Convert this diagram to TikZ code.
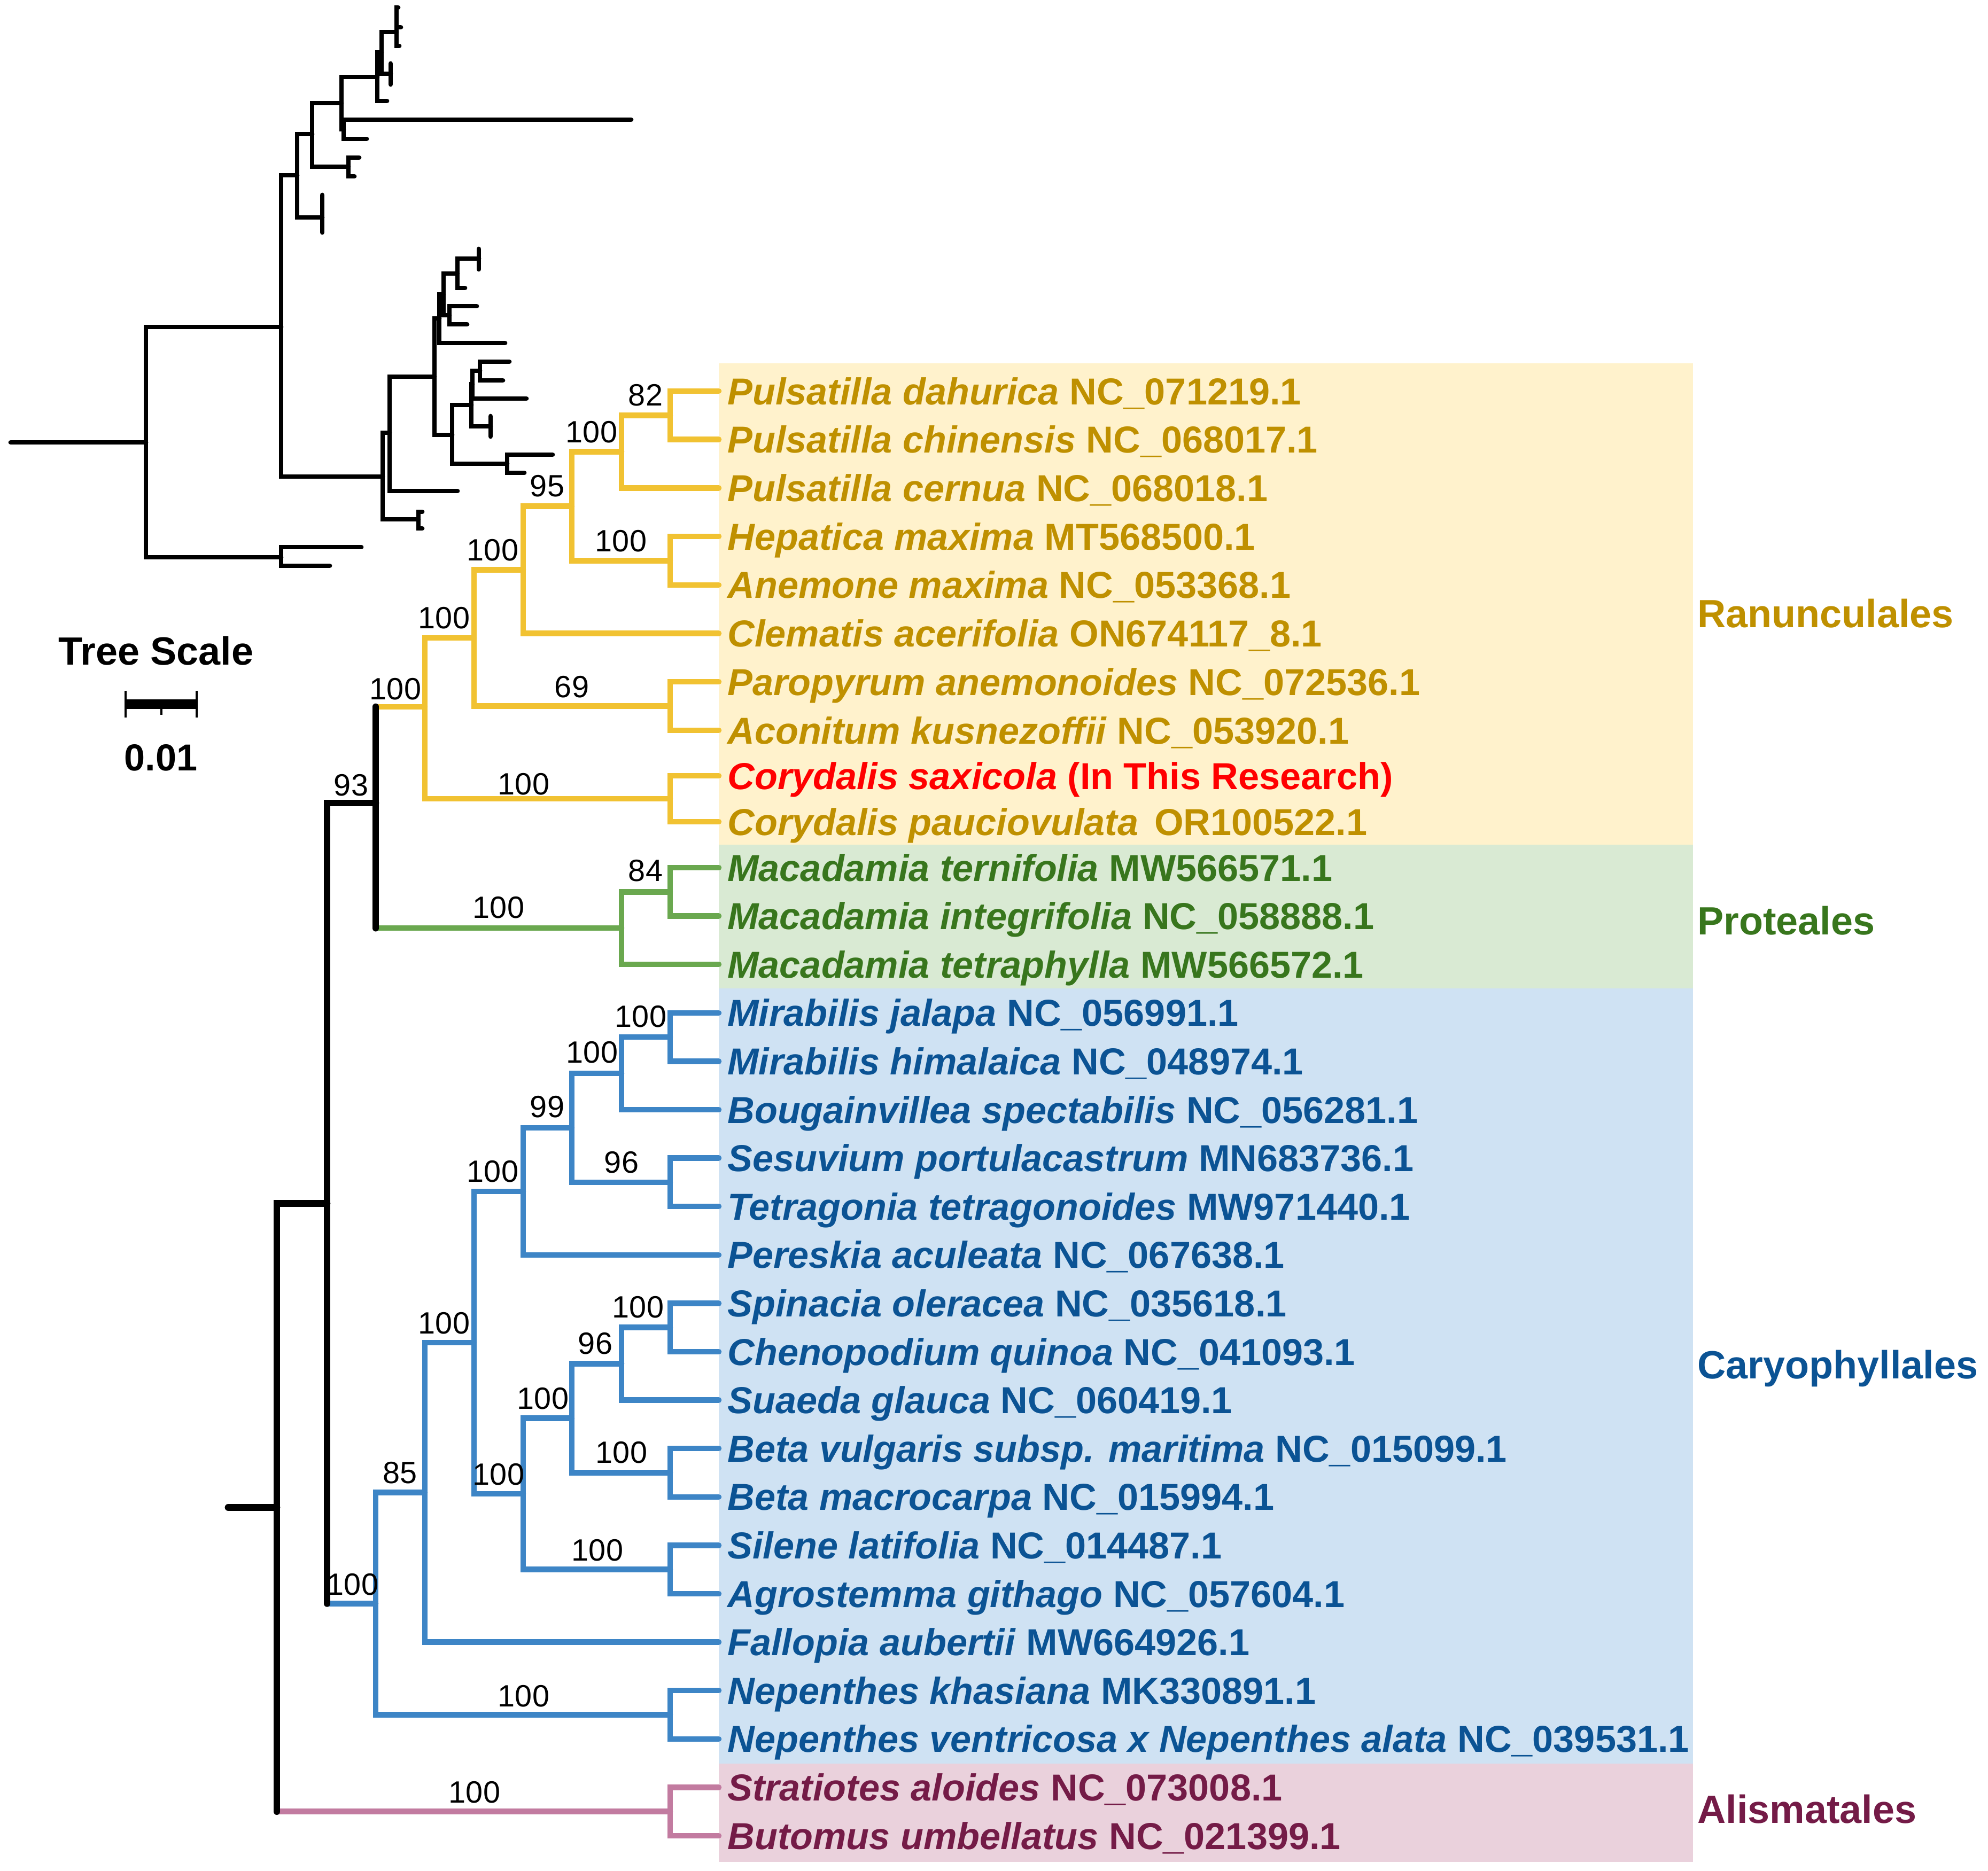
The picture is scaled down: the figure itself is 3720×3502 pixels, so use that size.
\documentclass[tikz,border=0pt]{standalone}
\usepackage{fontspec}
\setmainfont[Ligatures=CommonOff]{Liberation Sans}
\usetikzlibrary{calc}

\definecolor{ranLine}{HTML}{F1C232}
\definecolor{ranText}{HTML}{BF9000}
\definecolor{ranBack}{HTML}{FFF2CC}
\definecolor{proLine}{HTML}{6AA84F}
\definecolor{proText}{HTML}{38761D}
\definecolor{proBack}{HTML}{D9EAD3}
\definecolor{carLine}{HTML}{3D85C6}
\definecolor{carText}{HTML}{0B5394}
\definecolor{carBack}{HTML}{CFE2F3}
\definecolor{aliLine}{HTML}{C27BA0}
\definecolor{aliText}{HTML}{741B47}
\definecolor{aliBack}{HTML}{EAD1DC}
\definecolor{newText}{HTML}{FF0000}

\tikzset{
  blk/.style={line width=1.8pt, line cap=round, black},
  mini/.style={line width=1.25pt, line cap=round, black},
  ranbr/.style={line width=1.5pt, line cap=round, ranLine},
  probr/.style={line width=1.5pt, line cap=round, proLine},
  carbr/.style={line width=1.5pt, line cap=round, carLine},
  alibr/.style={line width=1.5pt, line cap=round, aliLine},
  leaf/.style={anchor=west, inner xsep=0.075cm, inner ysep=0pt, text height=7.16pt, text depth=0pt,
    font=\fontsize{10}{12}\selectfont\bfseries},
  boot/.style={inner sep=0pt, font=\fontsize{8.2}{10}\selectfont},
  clade/.style={anchor=base west, inner sep=0pt, font=\fontsize{10.5}{12}\selectfont\bfseries},
  scalelabel/.style={inner sep=0pt, font=\fontsize{10.5}{12}\selectfont\bfseries},
}

\begin{document}
\begin{tikzpicture}[x=0.005cm, y=-0.005cm]
        \useasboundingbox (0,0) rectangle (3720,3502);
        \fill[ranBack] (1345,680) rectangle (3168,1581);
        \fill[proBack] (1345,1581) rectangle (3168,1850);
        \fill[carBack] (1345,1850) rectangle (3168,3301);
        \fill[aliBack] (1345,3301) rectangle (3168,3485);

        % small tree at the top
        \coordinate (tStub) at (20,828);
        \coordinate (tRoot) at (273,828);
        \coordinate (tA) at (526,612);
        \coordinate (tB) at (526,1043);
        \coordinate (tB1) at (676,1024);
        \coordinate (tB2) at (617,1059);
        \coordinate (tC) at (556,328);
        \coordinate (tC1) at (603,407);
        \coordinate (tC1a) at (603,365);
        \coordinate (tC1b) at (603,435);
        \coordinate (tE) at (584,251);
        \coordinate (tF) at (652,312);
        \coordinate (tF1) at (672,295);
        \coordinate (tF2) at (663,330);
        \coordinate (tG) at (639,193);
        \coordinate (tH) at (643,242);
        \coordinate (tH1) at (1181,224);
        \coordinate (tH2) at (686,260);
        \coordinate (tI) at (706,144);
        \coordinate (tI1) at (724,189);
        \coordinate (tJ) at (714,98);
        \coordinate (tK) at (731,138);
        \coordinate (tK1) at (731,119);
        \coordinate (tK2) at (731,158);
        \coordinate (tL) at (742,60);
        \coordinate (tL1) at (745,14);
        \coordinate (tL2) at (750,51);
        \coordinate (tL3) at (747,86);
        \coordinate (tD) at (716,892);
        \coordinate (tD1) at (783,972);
        \coordinate (tD1a) at (790,958);
        \coordinate (tD1b) at (790,989);
        \coordinate (tM) at (729,810);
        \coordinate (tM1) at (856,919);
        \coordinate (tN) at (813,705);
        \coordinate (tO) at (846,814);
        \coordinate (tP) at (949,868);
        \coordinate (tP1) at (1034,851);
        \coordinate (tP2) at (981,885);
        \coordinate (tQ) at (882,758);
        \coordinate (tQ1) at (918,798);
        \coordinate (tQ1a) at (918,779);
        \coordinate (tQ1b) at (918,817);
        \coordinate (tR) at (884,719);
        \coordinate (tR1) at (985,746);
        \coordinate (tS) at (898,694);
        \coordinate (tS1) at (953,677);
        \coordinate (tS2) at (941,712);
        \coordinate (tT) at (822,596);
        \coordinate (tT1) at (945,642);
        \coordinate (tU) at (830,551);
        \coordinate (tV) at (841,590);
        \coordinate (tV1) at (892,573);
        \coordinate (tV2) at (874,607);
        \coordinate (tW) at (856,512);
        \coordinate (tW1) at (870,539);
        \coordinate (tX) at (896,484);
        \coordinate (tX1) at (896,466);
        \coordinate (tX2) at (896,504);
        \draw[mini] (tStub) -- (tRoot);
        \draw[mini] (tRoot) |- (tA) (tRoot) |- (tB);
        \draw[mini] (tB) |- (tB1) (tB) |- (tB2);
        \draw[mini] (tA) |- (tC) (tA) |- (tD);
        \draw[mini] (tC) |- (tE) (tC) |- (tC1);
        \draw[mini] (tC1) |- (tC1a) (tC1) |- (tC1b);
        \draw[mini] (tE) |- (tG) (tE) |- (tF);
        \draw[mini] (tF) |- (tF1) (tF) |- (tF2);
        \draw[mini] (tG) |- (tI) (tG) |- (tH);
        \draw[mini] (tH) |- (tH1) (tH) |- (tH2);
        \draw[mini] (tI) |- (tJ) (tI) |- (tI1);
        \draw[mini] (tJ) |- (tL) (tJ) |- (tK);
        \draw[mini] (tK) |- (tK1) (tK) |- (tK2);
        \draw[mini] (tL) |- (tL1) (tL) |- (tL2) (tL) |- (tL3);
        \draw[mini] (tD) |- (tM) (tD) |- (tD1);
        \draw[mini] (tD1) |- (tD1a) (tD1) |- (tD1b);
        \draw[mini] (tM) |- (tN) (tM) |- (tM1);
        \draw[mini] (tN) |- (tT) (tN) |- (tO);
        \draw[mini] (tO) |- (tQ) (tO) |- (tP);
        \draw[mini] (tP) |- (tP1) (tP) |- (tP2);
        \draw[mini] (tQ) |- (tR) (tQ) |- (tQ1);
        \draw[mini] (tQ1) |- (tQ1a) (tQ1) |- (tQ1b);
        \draw[mini] (tR) |- (tS) (tR) |- (tR1);
        \draw[mini] (tS) |- (tS1) (tS) |- (tS2);
        \draw[mini] (tT) |- (tU) (tT) |- (tT1);
        \draw[mini] (tU) |- (tW) (tU) |- (tV);
        \draw[mini] (tV) |- (tV1) (tV) |- (tV2);
        \draw[mini] (tW) |- (tX) (tW) |- (tW1);
        \draw[mini] (tX) |- (tX1) (tX) |- (tX2);

        % leaves
        \bfseries
        \node[leaf, ranText] (lPd) at (1345,732) {\textit{Pulsatilla dahurica} NC\_071219.1};
        \node[leaf, ranText] (lPc) at (1345,822.7) {\textit{Pulsatilla chinensis} NC\_068017.1};
        \node[leaf, ranText] (lPce) at (1345,913.4) {\textit{Pulsatilla cernua} NC\_068018.1};
        \node[leaf, ranText] (lHm) at (1345,1004) {\textit{Hepatica maxima} MT568500.1};
        \node[leaf, ranText] (lAm) at (1345,1094.8) {\textit{Anemone maxima} NC\_053368.1};
        \node[leaf, ranText] (lCa) at (1345,1185.5) {\textit{Clematis acerifolia} ON674117\_8.1};
        \node[leaf, ranText] (lPa) at (1345,1276) {\textit{Paropyrum anemonoides} NC\_072536.1};
        \node[leaf, ranText] (lAk) at (1345,1367) {\textit{Aconitum kusnezoffii} NC\_053920.1};
        \node[leaf, newText] (lCs) at (1345,1452) {\textit{Corydalis saxicola} (In This Research)};
        \node[leaf, ranText] (lCp) at (1345,1538) {\textit{Corydalis pauciovulata}\hspace{0.15em} OR100522.1};
        \node[leaf, proText] (lMte) at (1345,1624) {\textit{Macadamia ternifolia} MW566571.1};
        \node[leaf, proText] (lMi) at (1345,1714.6) {\textit{Macadamia integrifolia} NC\_058888.1};
        \node[leaf, proText] (lMtp) at (1345,1805.2) {\textit{Macadamia tetraphylla} MW566572.1};
        \node[leaf, carText] (lMj) at (1345,1895.8) {\textit{Mirabilis jalapa} NC\_056991.1};
        \node[leaf, carText] (lMh) at (1345,1986.4) {\textit{Mirabilis himalaica} NC\_048974.1};
        \node[leaf, carText] (lBs) at (1345,2077) {\textit{Bougainvillea spectabilis} NC\_056281.1};
        \node[leaf, carText] (lSp) at (1345,2167.6) {\textit{Sesuvium portulacastrum} MN683736.1};
        \node[leaf, carText] (lTt) at (1345,2258.2) {\textit{Tetragonia tetragonoides} MW971440.1};
        \node[leaf, carText] (lPac) at (1345,2348.8) {\textit{Pereskia aculeata} NC\_067638.1};
        \node[leaf, carText] (lSo) at (1345,2439.4) {\textit{Spinacia oleracea} NC\_035618.1};
        \node[leaf, carText] (lCq) at (1345,2530) {\textit{Chenopodium quinoa} NC\_041093.1};
        \node[leaf, carText] (lSg) at (1345,2620.6) {\textit{Suaeda glauca} NC\_060419.1};
        \node[leaf, carText] (lBv) at (1345,2711.2) {\textit{Beta vulgaris subsp. maritima} NC\_015099.1};
        \node[leaf, carText] (lBm) at (1345,2801.8) {\textit{Beta macrocarpa} NC\_015994.1};
        \node[leaf, carText] (lSl) at (1345,2892.4) {\textit{Silene latifolia} NC\_014487.1};
        \node[leaf, carText] (lAg) at (1345,2983) {\textit{Agrostemma githago} NC\_057604.1};
        \node[leaf, carText] (lFa) at (1345,3073.6) {\textit{Fallopia aubertii} MW664926.1};
        \node[leaf, carText] (lNk) at (1345,3164.2) {\textit{Nepenthes khasiana} MK330891.1};
        \node[leaf, carText] (lNv) at (1345,3254.8) {\textit{Nepenthes ventricosa x Nepenthes alata} NC\_039531.1};
        \node[leaf, aliText] (lSa) at (1345,3345.4) {\textit{Stratiotes aloides} NC\_073008.1};
        \node[leaf, aliText] (lBu) at (1345,3436) {\textit{Butomus umbellatus} NC\_021399.1};
        \mdseries

        % inner nodes
        \coordinate (n82) at (1254,777.4);
        \coordinate (nPuls) at (1163,845.4);
        \coordinate (nHep) at (1254,1049.4);
        \coordinate (n95) at (1070,947.4);
        \coordinate (nR3) at (979,1066.5);
        \coordinate (nPar) at (1254,1321.5);
        \coordinate (nR2) at (887,1194);
        \coordinate (nCory) at (1254,1495);
        \coordinate (nRan) at (795,1323);
        \coordinate (n84) at (1254,1669.3);
        \coordinate (nPro) at (1163,1737.2);
        \coordinate (nRP) at (703,1503);
        \coordinate (nMir) at (1254,1941.1);
        \coordinate (nNyc) at (1163,2009);
        \coordinate (nAiz) at (1254,2212.9);
        \coordinate (n99) at (1070,2111);
        \coordinate (nCor1) at (979,2229.9);
        \coordinate (nSpi) at (1254,2484.7);
        \coordinate (nAma96) at (1163,2552.7);
        \coordinate (nBeta) at (1254,2756.5);
        \coordinate (nAma) at (1070,2654.6);
        \coordinate (nSil) at (1254,2937.7);
        \coordinate (nCor2) at (979,2796.2);
        \coordinate (nCor) at (887,2513);
        \coordinate (n85) at (795,2793.3);
        \coordinate (nNep) at (1254,3209.5);
        \coordinate (nCar) at (703,3001.4);
        \coordinate (nEud) at (612,2252.2);
        \coordinate (nAli) at (1254,3390.7);
        \coordinate (nRoot) at (518,2821.5);
        \coordinate (stub) at (427,2821.5);

        \draw[ranbr] (nRan) |- (nR2) (nRan) |- (nCory);
        \draw[ranbr] (nR2) |- (nR3) (nR2) |- (nPar);
        \draw[ranbr] (nR3) |- (n95) (nR3) |- (lCa.west);
        \draw[ranbr] (n95) |- (nPuls) (n95) |- (nHep);
        \draw[ranbr] (nPuls) |- (n82) (nPuls) |- (lPce.west);
        \draw[ranbr] (n82) |- (lPd.west) (n82) |- (lPc.west);
        \draw[ranbr] (nHep) |- (lHm.west) (nHep) |- (lAm.west);
        \draw[ranbr] (nPar) |- (lPa.west) (nPar) |- (lAk.west);
        \draw[ranbr] (nCory) |- (lCs.west) (nCory) |- (lCp.west);
        \draw[probr] (nPro) |- (n84) (nPro) |- (lMtp.west);
        \draw[probr] (n84) |- (lMte.west) (n84) |- (lMi.west);
        \draw[carbr] (nCar) |- (n85) (nCar) |- (nNep);
        \draw[carbr] (n85) |- (nCor) (n85) |- (lFa.west);
        \draw[carbr] (nCor) |- (nCor1) (nCor) |- (nCor2);
        \draw[carbr] (nCor1) |- (n99) (nCor1) |- (lPac.west);
        \draw[carbr] (n99) |- (nNyc) (n99) |- (nAiz);
        \draw[carbr] (nNyc) |- (nMir) (nNyc) |- (lBs.west);
        \draw[carbr] (nMir) |- (lMj.west) (nMir) |- (lMh.west);
        \draw[carbr] (nAiz) |- (lSp.west) (nAiz) |- (lTt.west);
        \draw[carbr] (nCor2) |- (nAma) (nCor2) |- (nSil);
        \draw[carbr] (nAma) |- (nAma96) (nAma) |- (nBeta);
        \draw[carbr] (nAma96) |- (nSpi) (nAma96) |- (lSg.west);
        \draw[carbr] (nSpi) |- (lSo.west) (nSpi) |- (lCq.west);
        \draw[carbr] (nBeta) |- (lBv.west) (nBeta) |- (lBm.west);
        \draw[carbr] (nSil) |- (lSl.west) (nSil) |- (lAg.west);
        \draw[carbr] (nNep) |- (lNk.west) (nNep) |- (lNv.west);
        \draw[alibr] (nAli) |- (lSa.west) (nAli) |- (lBu.west);
        \draw[ranbr] (nRP |- nRan) -- (nRan);
        \draw[probr] (nRP |- nPro) -- (nPro);
        \draw[carbr] (nEud |- nCar) -- (nCar);
        \draw[alibr] (nRoot |- nAli) -- (nAli);
        \draw[blk] (nRP |- nRan) -- (nRP |- nPro);
        \draw[blk] (nEud) |- (nRP);
        \draw[blk] (nEud) -- (nEud |- nCar);
        \draw[blk] (nRoot) |- (nEud);
        \draw[blk] (nRoot) -- (nRoot |- nAli);
        \draw[blk] (stub) -- (nRoot);

        % bootstrap values
        \node[boot] (bs82) at (1208,740) {82};
        \node[boot] (bsPuls) at (1107,809) {100};
        \node[boot] (bs95) at (1024,910) {95};
        \node[boot] (bsHep) at (1162,1013) {100};
        \node[boot] (bsR3) at (922,1030) {100};
        \node[boot] (bsR2) at (831,1157) {100};
        \node[boot] (bs69) at (1070,1286) {69};
        \node[boot] (bsRan) at (740,1290) {100};
        \node[boot] (bsCory) at (980,1468) {100};
        \node[boot] (bs93) at (657,1470) {93};
        \node[boot] (bsPro) at (933,1699) {100};
        \node[boot] (bs84) at (1208,1630) {84};
        \node[boot] (bsMir) at (1199,1903) {100};
        \node[boot] (bsNyc) at (1108,1970) {100};
        \node[boot] (bs99) at (1024,2072) {99};
        \node[boot] (bsAiz) at (1163,2176) {96};
        \node[boot] (bsCor1) at (922,2193) {100};
        \node[boot] (bsCor) at (831,2477) {100};
        \node[boot] (bsSpi) at (1194,2447) {100};
        \node[boot] (bsAma96) at (1114,2515) {96};
        \node[boot] (bsAma) at (1016,2618) {100};
        \node[boot] (bsBeta) at (1163,2719) {100};
        \node[boot] (bsCor2) at (933,2760) {100};
        \node[boot] (bs85) at (749,2757) {85};
        \node[boot] (bsSil) at (1118,2902) {100};
        \node[boot] (bsCar) at (660,2966) {100};
        \node[boot] (bsNep) at (980,3175) {100};
        \node[boot] (bsAli) at (888,3355) {100};

        % clades
        \node[clade, ranText] (cRan) at (3175,1175) {Ranunculales};
        \node[clade, proText] (cPro) at (3175,1750) {Proteales};
        \node[clade, carText] (cCar) at (3175,2580) {Caryophyllales};
        \node[clade, aliText] (cAli) at (3175,3412) {Alismatales};

        % scale
        \node[scalelabel] (tsTitle) at (292,1218) {Tree Scale};
        \node[scalelabel, font=\fontsize{10}{12}\selectfont\bfseries] (tsValue) at (301,1418) {0.01};
        \coordinate (sbL) at (235,1318);
        \coordinate (sbR) at (368,1318);
        \coordinate (sbM) at (302,1318);
        \draw[line width=2.6pt] (sbL) -- (sbR);
        \draw[line width=0.6pt] ($(sbL)+(0,-25)$) -- ($(sbL)+(0,25)$);
        \draw[line width=0.6pt] ($(sbR)+(0,-25)$) -- ($(sbR)+(0,25)$);
        \draw[line width=0.6pt] (sbM) -- ($(sbM)+(0,20)$);
    \end{tikzpicture}
\end{document}
